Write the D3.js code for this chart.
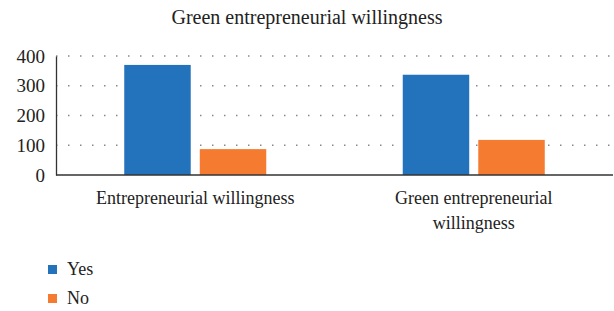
<!DOCTYPE html>
<html>
<head>
<meta charset="utf-8">
<script src="https://cdn.jsdelivr.net/npm/d3@7"></script>
<style>
  body { margin: 0; background: #fff; }
  svg text { font-family: "Liberation Serif", "DejaVu Serif", serif !important; fill: #222; }
</style>
</head>
<body>
<svg id="canvas" width="614" height="311"></svg>
<script>
const categories = ['Entrepreneurial willingness', 'Green entrepreneurial willingness'];
const seriesNames = ['Yes', 'No'];
const yesValues = [370, 337];
const noValues = [87, 118];
const yTicks = [0, 100, 200, 300, 400];
const colors = ['#2372bc', '#f47b30'];
const serif = '"Liberation Serif", "DejaVu Serif", serif';

const svg = d3.select('#canvas');
const margin = { left: 56, right: 1, top: 56, bottom: 136 };
const width = 614 - margin.left - margin.right;
const height = 311 - margin.top - margin.bottom;

const g = svg.append('g').attr('transform', 'translate(' + margin.left + ',' + margin.top + ')');

const x0 = d3.scaleBand().domain(categories).range([0, width]);
const x1 = d3.scaleBand().domain(seriesNames).range([0, 142]).paddingInner(0.12);
const y = d3.scaleLinear().domain([0, 400]).range([height, 0]);

// dotted grid
g.selectAll('.grid')
  .data(yTicks.slice(1))
  .enter()
  .append('line')
  .attr('x1', 0)
  .attr('x2', width)
  .attr('y1', (d) => y(d))
  .attr('y2', (d) => y(d))
  .attr('stroke', '#888')
  .attr('stroke-width', 1.5)
  .attr('stroke-dasharray', '1.5 10.5');

const rows = categories.map((c, i) => ({ cat: c, values: [yesValues[i], noValues[i]] }));

const group = g.selectAll('.group')
  .data(rows)
  .enter()
  .append('g')
  .attr('transform', (d) => 'translate(' + (x0(d.cat) + (x0.bandwidth() - 142) / 2) + ',0)');

group.selectAll('rect')
  .data((d) => d.values.map((v, i) => ({ name: seriesNames[i], value: v, i: i })))
  .enter()
  .append('rect')
  .attr('x', (d) => x1(d.name))
  .attr('width', x1.bandwidth())
  .attr('y', (d) => y(d.value))
  .attr('height', (d) => height - y(d.value))
  .attr('fill', (d) => colors[d.i]);

// axes
const yAxis = g.append('g')
  .call(d3.axisLeft(y).tickValues(yTicks).tickSize(0).tickPadding(11));
yAxis.attr('font-family', serif).attr('font-size', 19);
yAxis.select('.domain').attr('stroke', '#333').attr('stroke-width', 1.3);
yAxis.selectAll('text').attr('fill', '#222');

g.append('line')
  .attr('x1', 0).attr('x2', width)
  .attr('y1', height).attr('y2', height)
  .attr('stroke', '#333').attr('stroke-width', 1.5);

// category labels
const catLines = [['Entrepreneurial willingness'], ['Green entrepreneurial', 'willingness']];
categories.forEach((c, i) => {
  const t = g.append('text')
    .attr('x', x0(c) + x0.bandwidth() / 2)
    .attr('y', height + 29)
    .attr('text-anchor', 'middle')
    .attr('font-family', serif)
    .attr('font-size', 18);
  catLines[i].forEach((line, j) => {
    t.append('tspan').attr('x', x0(c) + x0.bandwidth() / 2).attr('dy', j === 0 ? 0 : 25).text(line);
  });
});

// title
svg.append('text')
  .attr('x', 307)
  .attr('y', 24)
  .attr('text-anchor', 'middle')
  .attr('font-family', serif)
  .attr('font-size', 20)
  .text('Green entrepreneurial willingness');

// legend
const legend = svg.selectAll('.legend')
  .data(seriesNames)
  .enter()
  .append('g')
  .attr('transform', (d, i) => 'translate(48,' + (265 + i * 29) + ')');

legend.append('rect')
  .attr('width', 9).attr('height', 9)
  .attr('fill', (d, i) => colors[i]);

legend.append('text')
  .attr('x', 19)
  .attr('y', 10)
  .attr('font-family', serif)
  .attr('font-size', 18)
  .text((d) => d);
</script>
</body>
</html>
